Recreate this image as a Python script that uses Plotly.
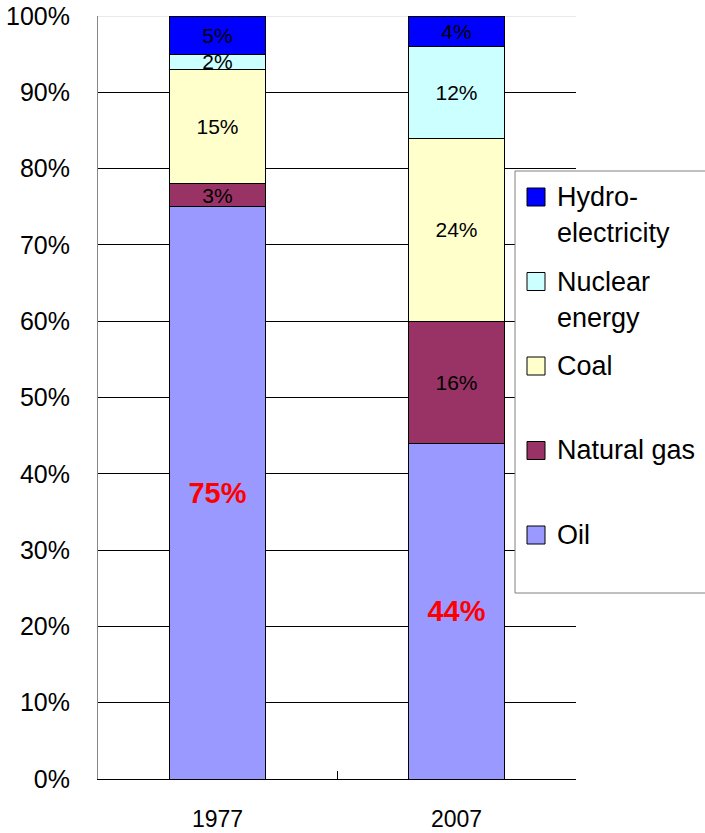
import plotly.graph_objects as go

# ---- data ----
years = ["1977", "2007"]
series_names = ["Oil", "Natural gas", "Coal", "Nuclear energy", "Hydroelectricity"]
oil = [75, 44]
natural_gas = [3, 16]
coal = [15, 24]
nuclear = [2, 12]
hydro = [5, 4]
series_values = [oil, natural_gas, coal, nuclear, hydro]
series_colors = ["#9999FF", "#993366", "#FFFFCC", "#CCFFFF", "#0000FF"]
legend_labels = [["Hydro-", "electricity"], ["Nuclear", "energy"], ["Coal"], ["Natural gas"], ["Oil"]]
legend_colors = ["#0000FF", "#CCFFFF", "#FFFFCC", "#993366", "#9999FF"]
y_ticks = list(range(0, 101, 10))
y_tick_labels = [f"{v}%" for v in y_ticks]

FONT = "Arial, 'Liberation Sans', sans-serif"
W, H = 705, 833
ML, MR, MT, MB = 98, 129, 16, 54
PW, PH = W - ML - MR, H - MT - MB


def px2x(px):
    return (px - ML) / PW


def px2y(py):
    return (H - MB - py) / PH


fig = go.Figure()
for name, vals, col in zip(series_names, series_values, series_colors):
    is_oil = name == "Oil"
    fig.add_trace(go.Bar(
        x=years, y=vals, name=name,
        marker=dict(color=col, line=dict(color="#000000", width=1)),
        text=[f"{v}%" for v in vals],
        textposition="inside",
        insidetextanchor="middle",
        textangle=0,
        constraintext="none",
        insidetextfont=dict(family=FONT, size=29 if is_oil else 21,
                            color="#FF0000" if is_oil else "#000000",
                            weight="bold" if is_oil else "normal"),
        width=0.4,
        showlegend=False,
        hoverinfo="skip",
    ))

shapes = [
    dict(type="line", xref="paper", yref="y", x0=0, x1=1, y0=100, y1=100,
         line=dict(color="#D4D4D4", width=1), layer="between"),
    dict(type="rect", xref="paper", yref="paper",
         x0=px2x(515), x1=px2x(720), y0=px2y(593), y1=px2y(171),
         line=dict(color="#808080", width=1), fillcolor="#FFFFFF", layer="above"),
]
annotations = []
for i, (lines, col) in enumerate(zip(legend_labels, legend_colors)):
    cy = 197 + 84.5 * i
    shapes.append(dict(type="rect", xref="paper", yref="paper",
                       x0=px2x(527), x1=px2x(545), y0=px2y(cy + 9), y1=px2y(cy - 9),
                       line=dict(color="#000000", width=1), fillcolor=col, layer="above"))
    for j, txt in enumerate(lines):
        annotations.append(dict(text=txt, xref="paper", yref="paper",
                                x=px2x(555), y=px2y(cy + 36.5 * j),
                                xanchor="left", yanchor="middle", showarrow=False,
                                font=dict(family=FONT, size=27, color="#000000")))

fig.update_layout(
    barmode="stack",
    width=W, height=H,
    margin=dict(l=ML, r=MR, t=MT, b=MB, pad=0, autoexpand=False),
    plot_bgcolor="#FFFFFF", paper_bgcolor="#FFFFFF",
    font=dict(family=FONT, color="#000000"),
    shapes=shapes,
    annotations=annotations,
    showlegend=False,
)
fig.update_yaxes(
    range=[0, 100], tickvals=y_ticks, ticktext=y_tick_labels,
    showgrid=True, gridcolor="#000000", gridwidth=1,
    showline=True, linecolor="#868686", linewidth=1,
    ticks="inside", ticklen=8, tickcolor="#000000",
    ticklabelstandoff=22, automargin=False, ticklabeloverflow="allow",
    tickfont=dict(family=FONT, size=25, color="#000000"),
    zeroline=False, fixedrange=True,
)
fig.update_xaxes(
    type="category",
    showline=True, linecolor="#000000", linewidth=1,
    ticks="inside", ticklen=8, tickcolor="#000000", tickson="boundaries",
    ticklabelstandoff=19, automargin=False, ticklabeloverflow="allow",
    tickfont=dict(family=FONT, size=23, color="#000000"),
    showgrid=False, fixedrange=True,
)

fig.write_html("out.html",
               config={"displayModeBar": False, "staticPlot": True},
               post_script="document.body.style.margin='0';document.body.style.overflow='hidden';")
